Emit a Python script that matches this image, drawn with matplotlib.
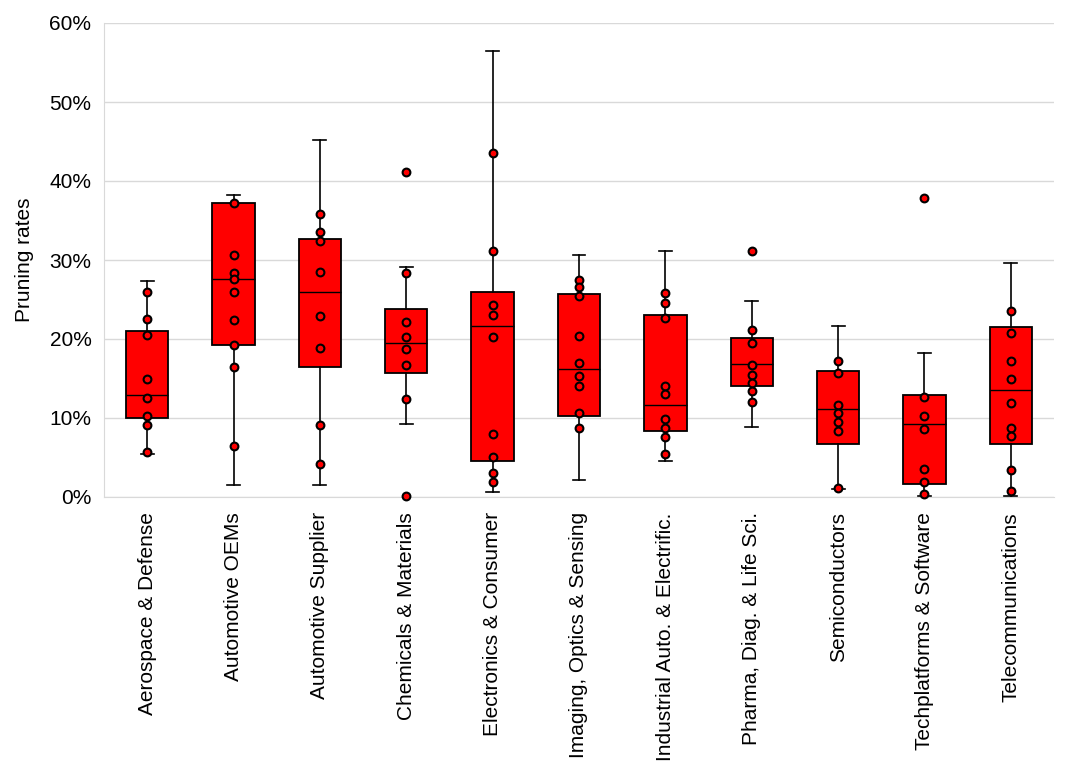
import matplotlib
matplotlib.use("Agg")
import matplotlib.pyplot as plt
from matplotlib.ticker import FuncFormatter

categories = ["Aerospace & Defense", "Automotive OEMs", "Automotive Supplier",
              "Chemicals & Materials", "Electronics & Consumer",
              "Imaging, Optics & Sensing", "Industrial Auto. & Electrific.",
              "Pharma, Diag. & Life Sci.", "Semiconductors",
              "Techplatforms & Software", "Telecommunications"]

whisker_low = [5.5, 1.5, 1.5, 9.2, 0.6, 2.2, 4.6, 8.8, 1.0, 0.1, 0.1]
q1 = [10.0, 19.2, 16.5, 15.7, 4.5, 10.2, 8.4, 14.1, 6.7, 1.6, 6.7]
median = [12.9, 27.6, 26.0, 19.5, 21.7, 16.2, 11.6, 16.8, 11.2, 9.3, 13.5]
q3 = [21.0, 37.2, 32.6, 23.8, 25.9, 25.7, 23.1, 20.1, 16.0, 12.9, 21.5]
whisker_high = [27.4, 38.2, 45.2, 29.1, 56.4, 30.6, 31.2, 24.8, 21.7, 18.2, 29.6]

points = [
    [26.0, 22.5, 20.5, 14.9, 12.5, 10.2, 9.1, 5.7],
    [37.2, 30.6, 28.4, 27.6, 26.0, 22.4, 19.2, 16.4, 6.5],
    [35.8, 33.5, 32.4, 28.5, 22.9, 18.9, 9.1, 4.2],
    [41.2, 28.4, 22.2, 20.2, 18.7, 16.7, 12.4, 0.1],
    [43.5, 31.1, 24.3, 23.1, 20.2, 8.0, 5.0, 3.1, 1.9],
    [27.5, 26.6, 25.4, 20.4, 16.9, 15.3, 14.0, 10.6, 8.7],
    [25.8, 24.5, 22.7, 14.1, 13.1, 9.9, 8.7, 7.6, 5.4],
    [31.2, 21.1, 19.5, 16.7, 15.4, 14.4, 13.4, 12.0],
    [17.2, 15.7, 11.7, 10.6, 9.5, 8.4, 1.1],
    [37.8, 12.7, 10.2, 8.6, 3.5, 1.9, 0.4],
    [23.5, 20.8, 17.2, 15.0, 11.9, 8.7, 7.7, 3.4, 0.8],
]

yticks = [0, 10, 20, 30, 40, 50, 60]

plt.rcParams['font.family'] = ['Liberation Sans', 'DejaVu Sans']

fig = plt.figure(figsize=(10.68, 7.72), dpi=100)
ax = fig.add_axes([104 / 1068, 1 - 497 / 772, 950 / 1068, 474 / 772])

stats = []
for i, c in enumerate(categories):
    stats.append(dict(label=c, whislo=whisker_low[i], q1=q1[i], med=median[i],
                      q3=q3[i], whishi=whisker_high[i], fliers=[]))

positions = list(range(len(categories)))
ax.bxp(stats, positions=positions, widths=0.49, patch_artist=True,
       showfliers=False, capwidths=0.15,
       boxprops=dict(facecolor="#ff0000", edgecolor="black", linewidth=1.3),
       medianprops=dict(color="black", linewidth=1.0),
       whiskerprops=dict(color="black", linewidth=1.2),
       capprops=dict(color="black", linewidth=1.2),
       zorder=3)

for i, pts in enumerate(points):
    ax.plot([positions[i]] * len(pts), pts, linestyle="none", marker="o",
            markersize=5.6, markerfacecolor="#ff0000", markeredgecolor="black",
            markeredgewidth=1.5, zorder=4, clip_on=False)

ax.set_xlim(-0.5, len(categories) - 0.5)
ax.set_ylim(0, 60)
ax.set_yticks(yticks)
ax.yaxis.set_major_formatter(FuncFormatter(lambda v, p: f"{int(v)}%"))
ax.set_xticks(positions)
ax.set_xticklabels(categories, rotation=90, fontsize=15, va="top", ha="center")
ax.tick_params(axis="y", labelsize=15, length=0, pad=9)
ax.tick_params(axis="x", length=0, pad=11)
ax.grid(axis="y", color="#d9d9d9", linewidth=1.0, zorder=0)
ax.set_axisbelow(True)
for s in ["top", "right"]:
    ax.spines[s].set_visible(False)
ax.spines["left"].set_color("#d9d9d9")
ax.spines["bottom"].set_color("#d9d9d9")
ax.set_ylabel("Pruning rates", fontsize=15, labelpad=11)

fig.savefig("out.png", dpi=100)
